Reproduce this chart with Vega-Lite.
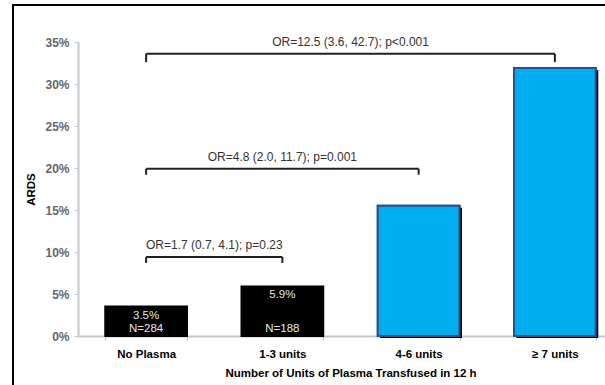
{
  "$schema": "https://vega.github.io/schema/vega-lite/v6.json",
  "width": 594,
  "height": 382,
  "autosize": {"type": "none"},
  "padding": {"left": 13, "top": 5, "right": -2, "bottom": -2},
  "config": {
    "view": {"stroke": "#000000", "strokeWidth": 2},
    "font": "Liberation Sans"
  },
  "datasets": {
    "bars": [
      {"cat": "No Plasma", "ards": 3.5, "pct": "3.5%", "n": "N=284"},
      {"cat": "1-3 units", "ards": 5.9, "pct": "5.9%", "n": "N=188"},
      {"cat": "4-6 units", "ards": 15.5, "pct": "", "n": ""},
      {"cat": "≥ 7 units", "ards": 31.9, "pct": "", "n": ""}
    ],
    "brackets": [
      {"from": "No Plasma", "to": "1-3 units", "top": 9.4, "end": 8.7, "mid": "1-3 units", "label": "OR=1.7 (0.7, 4.1); p=0.23"},
      {"from": "No Plasma", "to": "4-6 units", "top": 19.9, "end": 19.2, "mid": "1-3 units", "label": "OR=4.8 (2.0, 11.7); p=0.001"},
      {"from": "No Plasma", "to": "≥ 7 units", "top": 33.6, "end": 32.6, "mid": "4-6 units", "label": "OR=12.5 (3.6, 42.7); p<0.001"}
    ]
  },
  "layer": [
    {
      "data": {"name": "bars"},
      "mark": {"type": "bar", "strokeWidth": 2},
      "encoding": {
        "x": {"field": "cat", "type": "nominal", "sort": null,
              "scale": {"domain": ["No Plasma", "1-3 units", "4-6 units", "≥ 7 units"], "range": [65, 610], "paddingInner": 0.4, "paddingOuter": 0.2},
              "axis": {"title": "Number of Units of Plasma Transfused in 12 h", "offset": -51, "labelAngle": 0,
                       "tickBand": "extent", "tickSize": 4, "tickColor": "#bbbbbb", "domainColor": "#c8c8c8", "domainWidth": 2,
                       "labelFontWeight": "bold", "labelFontSize": 11.5, "labelColor": "#000000", "labelPadding": 8,
                       "titleFontSize": 11.5, "titleFontWeight": "bold", "titleColor": "#000000", "titlePadding": 8}},
        "y": {"field": "ards", "type": "quantitative",
              "scale": {"domain": [0, 35], "range": [331, 37], "nice": false},
              "axis": {"title": "ARDS", "values": [0, 5, 10, 15, 20, 25, 30, 35], "labelExpr": "datum.value + '%'",
                       "offset": -65, "grid": false, "domainColor": "#c8c8c8", "domainWidth": 2, "tickColor": "#c8c8c8", "tickSize": 4,
                       "labelFontSize": 12, "labelFontWeight": "bold", "labelColor": "#666666", "labelPadding": 5,
                       "titleFontSize": 11.5, "titleFontWeight": "bold", "titleColor": "#000000", "titlePadding": 8}},
        "color": {"field": "cat", "type": "nominal", "legend": null,
                  "scale": {"domain": ["No Plasma", "1-3 units", "4-6 units", "≥ 7 units"], "range": ["#000000", "#000000", "#00AEEF", "#00AEEF"]}},
        "stroke": {"field": "cat", "type": "nominal", "legend": null,
                   "scale": {"domain": ["No Plasma", "1-3 units", "4-6 units", "≥ 7 units"], "range": ["#000000", "#000000", "#2F4C8E", "#2F4C8E"]}}
      }
    },
    {
      "data": {"name": "bars"},
      "transform": [{"filter": "datum.pct == ''"}],
      "mark": {"type": "bar", "color": "#000000", "xOffset": 2.5, "yOffset": 2},
      "encoding": {
        "x": {"field": "cat", "type": "nominal", "sort": null},
        "y": {"field": "ards", "type": "quantitative"}
      }
    },
    {
      "data": {"name": "bars"},
      "transform": [{"filter": "datum.pct == ''"}],
      "mark": {"type": "bar", "color": "#00AEEF", "stroke": "#2F4C8E", "strokeWidth": 2},
      "encoding": {
        "x": {"field": "cat", "type": "nominal", "sort": null},
        "y": {"field": "ards", "type": "quantitative"}
      }
    },
    {
      "data": {"name": "bars"},
      "transform": [{"filter": "datum.pct != ''"}],
      "mark": {"type": "text", "baseline": "middle", "dy": 9, "color": "#e6e6e6", "fontSize": 11.5},
      "encoding": {
        "x": {"field": "cat", "type": "nominal", "sort": null},
        "y": {"field": "ards", "type": "quantitative"},
        "text": {"field": "pct"}
      }
    },
    {
      "data": {"name": "bars"},
      "transform": [{"filter": "datum.n != ''"}],
      "mark": {"type": "text", "baseline": "middle", "dy": -7, "color": "#e6e6e6", "fontSize": 11.5},
      "encoding": {
        "x": {"field": "cat", "type": "nominal", "sort": null},
        "y": {"datum": 0, "type": "quantitative"},
        "text": {"field": "n"}
      }
    },
    {
      "data": {"name": "brackets"},
      "mark": {"type": "rule", "color": "#222222", "strokeWidth": 2},
      "encoding": {
        "x": {"field": "from", "type": "nominal"},
        "x2": {"field": "to"},
        "y": {"field": "top", "type": "quantitative"}
      }
    },
    {
      "data": {"name": "brackets"},
      "mark": {"type": "rule", "color": "#222222", "strokeWidth": 2},
      "encoding": {
        "x": {"field": "from", "type": "nominal"},
        "y": {"field": "top", "type": "quantitative"},
        "y2": {"field": "end"}
      }
    },
    {
      "data": {"name": "brackets"},
      "mark": {"type": "rule", "color": "#222222", "strokeWidth": 2},
      "encoding": {
        "x": {"field": "to", "type": "nominal"},
        "y": {"field": "top", "type": "quantitative"},
        "y2": {"field": "end"}
      }
    },
    {
      "data": {"name": "brackets"},
      "transform": [{"filter": "datum.to != '4-6 units'"}],
      "mark": {"type": "text", "baseline": "middle", "dy": -12, "color": "#333333", "fontSize": 12},
      "encoding": {
        "x": {"field": "mid", "type": "nominal", "bandPosition": -0.333},
        "y": {"field": "top", "type": "quantitative"},
        "text": {"field": "label"}
      }
    },
    {
      "data": {"name": "brackets"},
      "transform": [{"filter": "datum.to == '4-6 units'"}],
      "mark": {"type": "text", "baseline": "middle", "dy": -12, "color": "#333333", "fontSize": 12},
      "encoding": {
        "x": {"field": "mid", "type": "nominal", "bandPosition": 0.5},
        "y": {"field": "top", "type": "quantitative"},
        "text": {"field": "label"}
      }
    }
  ]
}
